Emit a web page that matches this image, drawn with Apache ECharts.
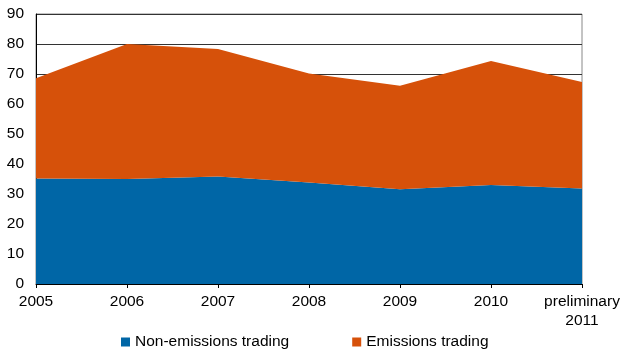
<!DOCTYPE html>
<html>
<head>
<meta charset="utf-8">
<script src="https://cdn.jsdelivr.net/npm/echarts@6/dist/echarts.min.js"></script>
<style>
  html, body { margin: 0; padding: 0; background: #fff; }
  #chart { width: 620px; height: 350px; }
</style>
</head>
<body>
<div id="chart"></div>
<script>
// Years on the horizontal axis
var years = ['2005', '2006', '2007', '2008', '2009', '2010', 'preliminary\n2011'];
// Emissions outside the trading scheme
var nonEmissionsTrading = [35.2, 35.0, 35.8, 33.8, 31.6, 33.0, 31.8];
// Emissions within the trading scheme (stacked on top)
var emissionsTrading = [33.4, 45.0, 42.5, 36.4, 34.5, 41.3, 35.5];
// Vertical axis ticks
var yTicks = [0, 10, 20, 30, 40, 50, 60, 70, 80, 90];

var seriesNames = ['Non-emissions trading', 'Emissions trading'];
var colors = ['#0066a6', '#d6510a'];

var chart = echarts.init(document.getElementById('chart'), null, { renderer: 'canvas' });

var font = 'Liberation Sans, Arial, sans-serif';
var fontSize = 15.5;

chart.setOption({
  animation: false,
  color: colors,
  grid: {
    left: 36, right: 38, top: 14, bottom: 66,
    outerBoundsMode: 'none',
    containLabel: false,
    show: true, borderColor: '#888', borderWidth: 1,
    backgroundColor: 'transparent'
  },
  legend: {
    data: seriesNames,
    left: 121, top: 334,
    padding: 0,
    itemWidth: 9, itemHeight: 9, icon: 'rect',
    itemGap: 63,
    textStyle: { fontFamily: font, fontSize: fontSize, color: '#000' }
  },
  xAxis: {
    type: 'category',
    data: years,
    boundaryGap: false,
    axisLine: { lineStyle: { color: '#000', width: 1 } },
    axisTick: { show: true, length: 4, lineStyle: { color: '#000' } },
    axisLabel: {
      fontFamily: font, fontSize: fontSize, color: '#000', margin: 8,
      lineHeight: 19, interval: 0
    },
    splitLine: { show: false }
  },
  yAxis: {
    type: 'value',
    min: yTicks[0],
    max: yTicks[yTicks.length - 1],
    interval: 10,
    axisLine: { show: true, lineStyle: { color: '#000', width: 1 } },
    axisTick: { show: false },
    axisLabel: { fontFamily: font, fontSize: fontSize, color: '#000', margin: 12 },
    splitLine: { show: true, lineStyle: { color: '#333', width: 1 } }
  },
  series: [
    {
      name: seriesNames[0],
      type: 'line',
      stack: 'total',
      data: nonEmissionsTrading,
      symbol: 'none',
      lineStyle: { width: 0 },
      areaStyle: { color: colors[0], opacity: 1 },
      z: 3
    },
    {
      name: seriesNames[1],
      type: 'line',
      stack: 'total',
      data: emissionsTrading,
      symbol: 'none',
      lineStyle: { width: 0 },
      areaStyle: { color: colors[1], opacity: 1 },
      z: 3
    }
  ]
});
</script>
</body>
</html>
